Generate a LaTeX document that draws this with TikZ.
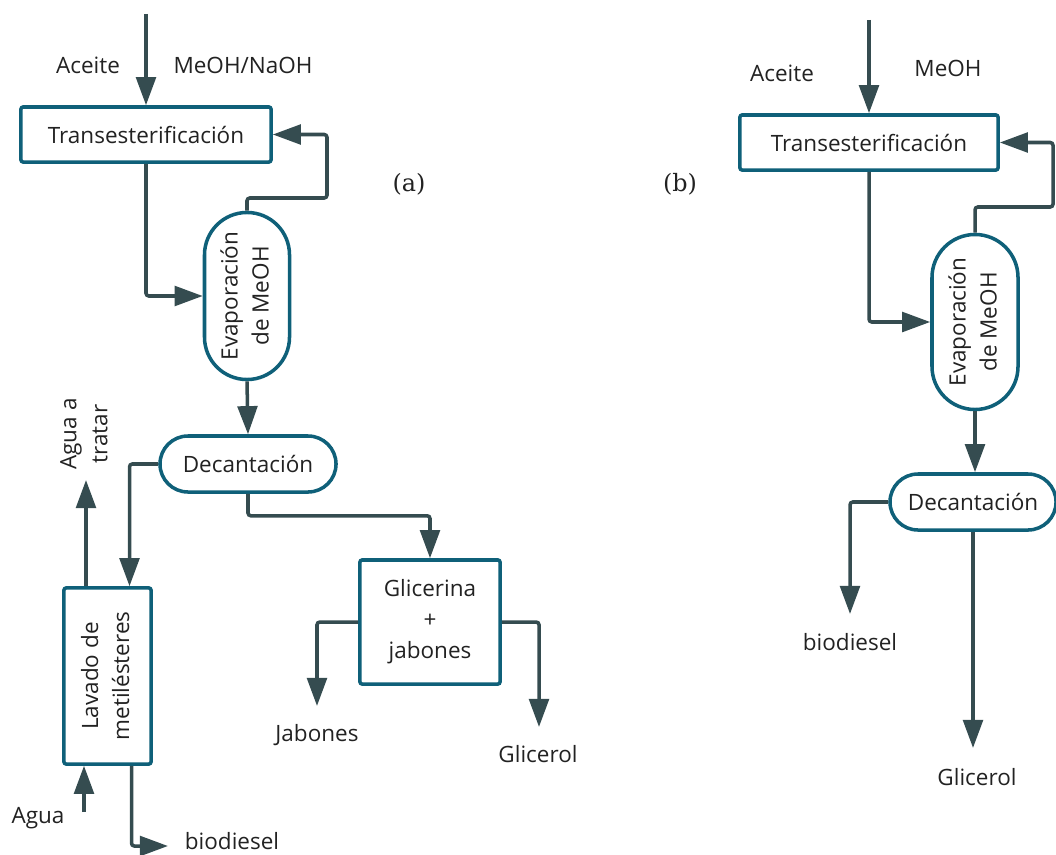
\documentclass[tikz,border=0pt]{standalone}
\usepackage{fontspec}
\setsansfont{Open Sans}
\newfontfamily\capfont{DejaVu Serif}
\usepackage{graphicx}
\usetikzlibrary{arrows.meta}

\definecolor{boxcol}{HTML}{0F6079}
\definecolor{flowcol}{HTML}{354C50}
\definecolor{txtcol}{HTML}{222222}

\begin{document}
\begin{tikzpicture}[x=0.025cm, y=-0.025cm]
    \tikzset{>={Triangle[length=20pt, width=14pt]}}
    \tikzset{
      unit/.style={draw=boxcol, line width=2.5pt, fill=white, rounded corners=1.5pt,
        align=center, text=txtcol, inner sep=0pt,
        font=\sffamily\fontsize{16}{22}\selectfont},
      pill/.style={unit, rounded corners=#1},
      flow/.style={->, draw=flowcol, line width=2.5pt, rounded corners=2pt},
      lbl/.style={text=txtcol, inner sep=0pt, align=center,
        font=\sffamily\fontsize{16}{22}\selectfont},
      panellbl/.style={text=txtcol, inner sep=0pt, font=\capfont\fontsize{17}{20}\selectfont}
    }

    \useasboundingbox (0, 0) rectangle (1056, 854);

    % ---------------- (a) ----------------
    \node[unit, minimum width=6.25cm, minimum height=1.375cm] (trA) at (146, 134.5) {Transesterificación};
    \node[pill=1.06cm, minimum width=2.125cm, minimum height=4.175cm] (evA) at (247, 296)
      {\rotatebox{90}{\begin{tabular}{@{}c@{}}Evaporación\\de MeOH\end{tabular}}};
    \node[pill=0.7cm, minimum width=4.4cm, minimum height=1.4cm] (decA) at (248, 464) {Decantación};
    \node[unit, minimum width=3.5cm, minimum height=3.1cm] (glA) at (430, 622) {Glicerina\\+\\jabones};
    \node[unit, minimum width=2.175cm, minimum height=4.4cm] (lavA) at (107.5, 676)
      {\rotatebox{90}{\begin{tabular}{@{}c@{}}Lavado de\\metilésteres\end{tabular}}};

    \node[lbl] (aceA) at (88, 65) {Aceite};
    \node[lbl] (meoA) at (243, 65) {MeOH/NaOH};
    \node[lbl, rotate=90] (trtA) at (84, 434) {Agua a\\tratar};
    \node[lbl] (aguA) at (38, 818) {Agua};
    \node[lbl] (bioA) at (232, 841) {biodiesel};
    \node[lbl] (jabA) at (317, 735) {Jabones};
    \node[lbl] (gliA) at (538, 754) {Glicerol};
    \node[panellbl] (capA) at (409, 184) {(a)};

    \coordinate (inA) at (146, 14);
    \coordinate (fbA) at (327, 198);
    \coordinate (jabEndA) at (317, 706);
    \coordinate (gliEndA) at (539, 727);
    \coordinate (trtEndA) at (86, 480);
    \coordinate (aguStartA) at (84, 812);
    \coordinate (bioEndA) at (168, 846);

    % Draw the streams
    \draw[flow] (inA) -- (trA.north);
    \draw[flow] (evA.north) |- (fbA) |- (trA.east);
    \draw[flow] (trA.south) |- (evA.west);
    \draw[flow] (evA.south) -- (decA.north);
    \draw[flow] (decA.west) -| ([xshift=5.5mm]lavA.north);
    \draw[flow] (decA.south) -- ++(0, 22) -| (glA.north);
    \draw[flow] (glA.west) -| (jabEndA);
    \draw[flow] (glA.east) -| (gliEndA);
    \draw[flow] (trtEndA |- lavA.north) -- (trtEndA);
    \draw[flow] (aguStartA) -- (aguStartA |- lavA.south);
    \draw[flow] ([xshift=6mm]lavA.south) |- (bioEndA);

    % ---------------- (b) ----------------
    \node[unit, minimum width=6.45cm, minimum height=1.375cm] (trB) at (869, 142.5) {Transesterificación};
    \node[pill=1.075cm, minimum width=2.15cm, minimum height=4.375cm] (evB) at (975, 322)
      {\rotatebox{90}{\begin{tabular}{@{}c@{}}Evaporación\\de MeOH\end{tabular}}};
    \node[pill=0.7cm, minimum width=4.15cm, minimum height=1.4cm] (decB) at (973, 502) {Decantación};

    \node[lbl] (aceB) at (782, 73) {Aceite};
    \node[lbl] (meoB) at (948, 68) {MeOH};
    \node[lbl] (bioB) at (850, 642) {biodiesel};
    \node[lbl] (gliB) at (977, 777) {Glicerol};
    \node[panellbl] (capB) at (680, 184) {(b)};

    \coordinate (inB) at (869, 20);
    \coordinate (fbB) at (1053, 207);
    \coordinate (bioEndB) at (850, 614);
    \coordinate (gliEndB) at (973, 748);

    % Draw the streams
    \draw[flow] (inB) -- (trB.north);
    \draw[flow] (evB.north) |- (fbB) |- (trB.east);
    \draw[flow] (trB.south) |- (evB.west);
    \draw[flow] (evB.south) -- (evB.south |- decB.north);
    \draw[flow] (decB.west) -| (bioEndB);
    \draw[flow] (decB.south) -- (gliEndB);
\end{tikzpicture}
\end{document}
